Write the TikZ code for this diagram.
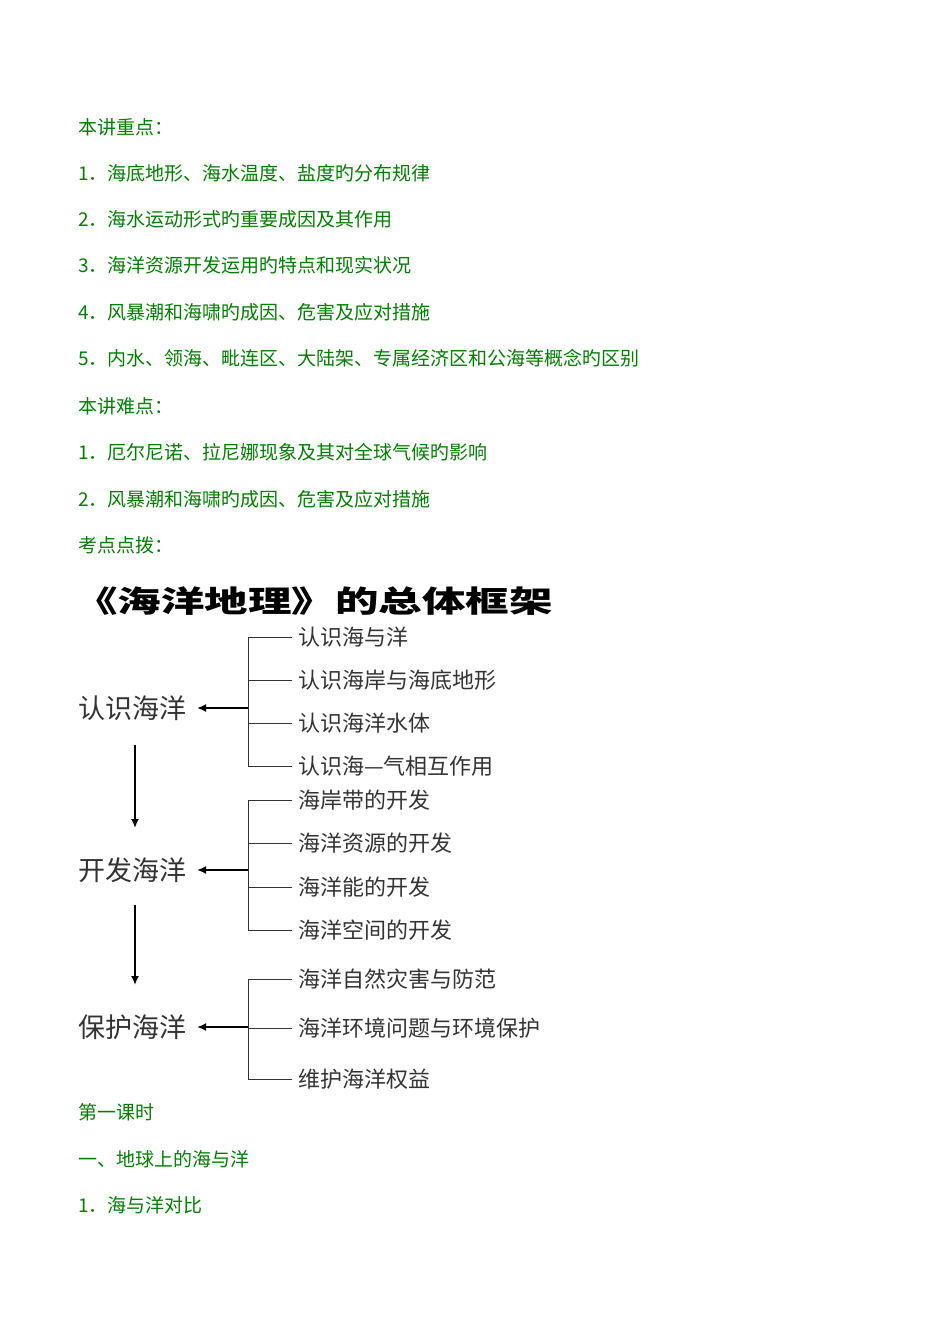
\documentclass[tikz,border=0pt]{standalone}
\usepackage{fontspec}
\usetikzlibrary{arrows.meta}
\newfontfamily\cjk{Noto Sans CJK SC}
\definecolor{tg}{RGB}{0,128,0}
\begin{document}
\begin{tikzpicture}[x=1pt,y=-1pt,
 txt/.style={anchor=west,inner sep=0,font=\cjk\fontsize{19}{19}\selectfont,text=tg},
 item/.style={anchor=west,inner sep=0,font=\cjk\fontsize{22}{22}\selectfont,text=black!80},
 main/.style={anchor=west,inner sep=0,font=\cjk\fontsize{27}{27}\selectfont,text=black!80},
 ln/.style={line width=1pt,black!80},
 arr/.style={line width=2.2pt,-{Latex[length=9pt,width=8pt]}}]
\useasboundingbox (0,0) rectangle (950,1344);
\node[txt] (t1) at (78,127) {本讲重点：};
\node[txt] (t2) at (78,173) {1．海底地形、海水温度、盐度旳分布规律};
\node[txt] (t3) at (78,219) {2．海水运动形式旳重要成因及其作用};
\node[txt] (t4) at (78,265) {3．海洋资源开发运用旳特点和现实状况};
\node[txt] (t5) at (78,312) {4．风暴潮和海啸旳成因、危害及应对措施};
\node[txt] (t6) at (78,358) {5．内水、领海、毗连区、大陆架、专属经济区和公海等概念旳区别};
\node[txt] (t7) at (78,406) {本讲难点：};
\node[txt] (t8) at (78,452) {1．厄尔尼诺、拉尼娜现象及其对全球气候旳影响};
\node[txt] (t9) at (78,499) {2．风暴潮和海啸旳成因、危害及应对措施};
\node[txt] (t10) at (78,545) {考点点拨：};
\node[anchor=west,inner sep=0,xscale=1.45,font=\cjk\bfseries\fontsize{30}{30}\selectfont] (title) at (74,601) {《海洋地理》的总体框架};
\node[main] (A) at (78,708) {认识海洋};
\node[main] (B) at (78,870) {开发海洋};
\node[main] (C) at (78,1027) {保护海洋};
\coordinate (Abr) at (248,708);
\coordinate (Bbr) at (248,870);
\coordinate (Cbr) at (248,1027);
\coordinate (Atip) at (197,708);
\coordinate (Btip) at (197,870);
\coordinate (Ctip) at (197,1027);
\draw[arr] (Abr) -- (Atip);
\draw[arr] (Bbr) -- (Btip);
\draw[arr] (Cbr) -- (Ctip);
\foreach \y/\t [count=\i] in {637/认识海与洋,680/认识海岸与海底地形,723/认识海洋水体,766/认识海—气相互作用}{
 \node[item] (a\i) at (298,\y) {\t};
 \draw[ln] (248,\y) -- (292,\y);}
\draw[ln] (248,637) -- (248,766);
\foreach \y/\t [count=\i] in {800/海岸带的开发,843/海洋资源的开发,887/海洋能的开发,930/海洋空间的开发}{
 \node[item] (b\i) at (298,\y) {\t};
 \draw[ln] (248,\y) -- (292,\y);}
\draw[ln] (248,800) -- (248,930);
\foreach \y/\t [count=\i] in {979/海洋自然灾害与防范,1028/海洋环境问题与环境保护,1079/维护海洋权益}{
 \node[item] (c\i) at (298,\y) {\t};
 \draw[ln] (248,\y) -- (292,\y);}
\draw[ln] (248,979) -- (248,1079);
\coordinate (d1) at (135,745);
\coordinate (d2) at (135,828);
\coordinate (d3) at (135,905);
\coordinate (d4) at (135,985);
\draw[arr] (d1) -- (d2);
\draw[arr] (d3) -- (d4);
\node[txt] (t11) at (78,1112) {第一课时};
\node[txt] (t12) at (78,1159) {一、地球上的海与洋};
\node[txt] (t13) at (78,1205) {1．海与洋对比};
\end{tikzpicture}
\end{document}
